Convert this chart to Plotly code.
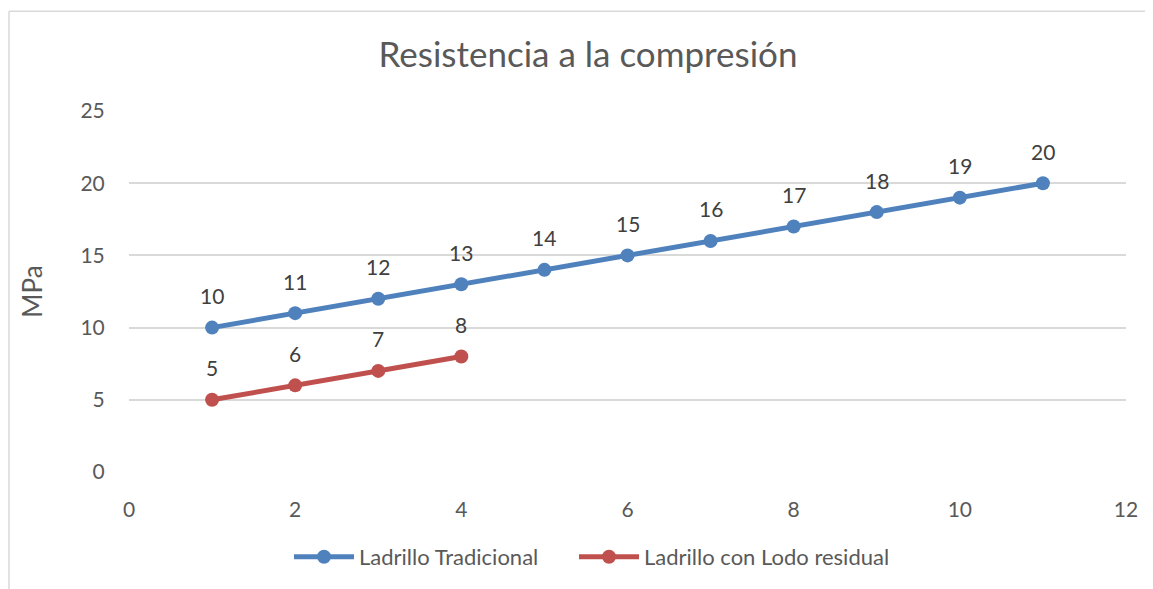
import plotly.graph_objects as go

x_trad = [1, 2, 3, 4, 5, 6, 7, 8, 9, 10, 11]
y_trad = [10, 11, 12, 13, 14, 15, 16, 17, 18, 19, 20]
x_lodo = [1, 2, 3, 4]
y_lodo = [5, 6, 7, 8]
x_ticks = [0, 2, 4, 6, 8, 10, 12]
y_ticks = [0, 5, 10, 15, 20, 25]

blue = "#4F81BD"
red = "#C0504D"
txt = "#595959"
grid = "#D9D9D9"
FONT = "Lato, Open Sans, sans-serif"

OFF = 8  # page body margin
W, H = 1153 - OFF, 589 - OFF
L, R, T, B = 129 - OFF, 27, 111 - OFF, 116
pw, ph = W - L - R, H - T - B

def px(xpix):
    return (xpix - OFF - L) / pw

def py(ypix):
    return (H - B - (ypix - OFF)) / ph

fig = go.Figure()
fig.add_trace(go.Scatter(x=x_trad, y=y_trad, mode="lines+markers", name="Ladrillo Tradicional",
                         line=dict(color=blue, width=5), marker=dict(size=14, color=blue),
                         legend="legend", showlegend=True))
fig.add_trace(go.Scatter(x=x_lodo, y=y_lodo, mode="lines+markers", name="Ladrillo con Lodo residual",
                         line=dict(color=red, width=5), marker=dict(size=14, color=red),
                         legend="legend2", showlegend=True))

ann = []
for xs, ys in ((x_trad, y_trad), (x_lodo, y_lodo)):
    for xv, yv in zip(xs, ys):
        ann.append(dict(x=xv, y=yv, text=str(yv), showarrow=False, yshift=32,
                        font=dict(family=FONT, size=21, color="#404040")))

shapes = [
    dict(type="line", xref="paper", yref="paper", x0=px(9), x1=px(1170), y0=py(11), y1=py(11),
         line=dict(color=grid, width=1.5)),
    dict(type="line", xref="paper", yref="paper", x0=px(9), x1=px(9), y0=py(11), y1=py(620),
         line=dict(color=grid, width=1.5)),
]

leg_common = dict(orientation="h", xanchor="left", y=py(557), yanchor="middle",
                  font=dict(family=FONT, size=22, color=txt), itemwidth=60)

fig.update_layout(
    width=W, height=H,
    showlegend=True,
    margin=dict(l=L, r=R, t=T, b=B),
    paper_bgcolor="white", plot_bgcolor="white",
    font=dict(family=FONT, color=txt, size=21),
    title=dict(text="Resistencia a la compresión", x=(588 - OFF) / W, xanchor="center",
               y=1 - (55 - OFF) / H, yanchor="middle", xref="container", yref="container",
               font=dict(family=FONT, size=35, color=txt)),
    xaxis=dict(range=[0, 12], tickvals=x_ticks, showgrid=False, zeroline=False, showline=False,
               ticks="outside", ticklen=19, tickcolor="rgba(0,0,0,0)",
               tickfont=dict(family=FONT, size=21, color=txt)),
    yaxis=dict(range=[0, 25], tickvals=y_ticks, showgrid=True, gridcolor=grid, gridwidth=1.5,
               zeroline=False, showline=False, ticks="outside", ticklen=19,
               tickcolor="rgba(0,0,0,0)", tickfont=dict(family=FONT, size=21, color=txt),
               title=dict(text="MPa", font=dict(family=FONT, size=26, color=txt), standoff=30)),
    legend=dict(x=px(289), **leg_common),
    legend2=dict(x=px(574), **leg_common),
    annotations=ann,
    shapes=shapes,
)

fig.write_html("out.html")
